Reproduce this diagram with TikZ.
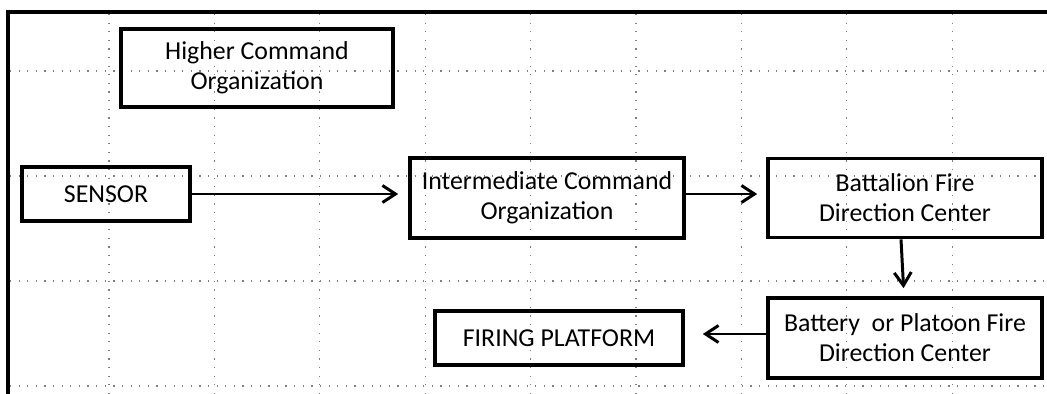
\documentclass[tikz,border=0pt]{standalone}
\usepackage{fontspec}
\setmainfont{Carlito}
\usetikzlibrary{arrows.meta}

\begin{document}
\begin{tikzpicture}[x=0.02cm, y=-0.02cm,
    box/.style={draw, line width=2.1pt, minimum width=5.48cm, minimum height=1.6cm, align=center, inner sep=0pt, font=\fontsize{14.7}{17.2}\selectfont},
    arr/.style={line width=1.7pt, -{Straight Barb[length=0.26cm,width=0.34cm]}, shorten >=0.2cm},
    grid/.style={gray, line width=0.7pt, dash pattern=on 0.7pt off 4.2pt}]

    % Page size and white background
    \fill[white] (0,0) rectangle (1047,394);
    \useasboundingbox (0,0) rectangle (1047,394);

    % Dotted grid behind the chart
    \foreach \gx in {0,...,8}
        \draw[grid] (109+105.4*\gx,14) -- (109+105.4*\gx,394);
    \foreach \gy in {71,176,281,386}
        \draw[grid] (10,\gy) -- (1047,\gy);

    % Frame on the top and left side
    \draw[line width=2.2pt] (1047,12) -- (8,12) -- (8,394);

    % Boxes
    \node[box, minimum width=5.44cm, minimum height=1.56cm] (high) at (257,68) {Higher Command\\Organization};
    \node[box, minimum width=3.36cm, minimum height=1.08cm] (sensor) at (106,194) {SENSOR};
    \node[box] (inter) at (547,198) {Intermediate Command\\Organization};
    \node[box, minimum height=1.58cm] (fdc) at (905,198) {Battalion Fire\\Direction Center};
    \node[box] (platoon) at (905,338) {Battery~ or Platoon Fire\\Direction Center};
    \node[box, minimum width=4.96cm, minimum height=1.08cm] (firing) at (559,338) {FIRING PLATFORM};

    % Arrows
    \draw[arr] (sensor.east) -- (sensor.east -| inter.west);
    \draw[arr, shorten >=0.18cm] ([yshift=0.08cm]inter.east) -- ([yshift=0.08cm]fdc.west);
    \draw[arr, shorten >=0.16cm] ([xshift=-0.08cm]fdc.south) -- ([xshift=-0.02cm]platoon.north);
    \draw[arr, shorten >=0.36cm] ([yshift=0.08cm]platoon.west) -- ([yshift=0.08cm]firing.east);
\end{tikzpicture}
\end{document}
